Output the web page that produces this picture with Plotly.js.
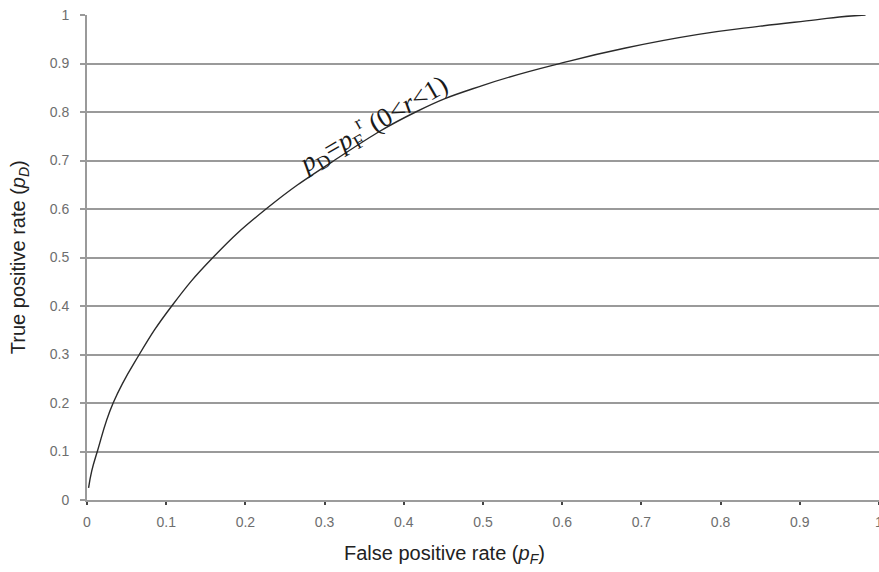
<!DOCTYPE html>
<html>
<head>
<meta charset="utf-8">
<script src="https://cdn.plot.ly/plotly-3.0.1.min.js"></script>
<style>html,body{margin:0;padding:0;background:#fff;}#chart{width:879px;height:572px;}</style>
</head>
<body>
<div id="chart"></div>
<script>
// Curve (p_F, p_D)
const falsePositiveRate = [0.002, 0.006, 0.013, 0.033, 0.066, 0.107, 0.159, 0.226, 0.312, 0.415, 0.5, 0.609, 0.68, 0.772, 0.85, 0.92, 0.95, 0.983];
const truePositiveRate  = [0.025, 0.06, 0.1, 0.2, 0.3, 0.4, 0.5, 0.6, 0.7, 0.8, 0.855, 0.905, 0.932, 0.96, 0.977, 0.99, 0.996, 1.0];

const xTickValues = [0, 0.1, 0.2, 0.3, 0.4, 0.5, 0.6, 0.7, 0.8, 0.9, 1];
const xTickLabels = ['0', '0.1', '0.2', '0.3', '0.4', '0.5', '0.6', '0.7', '0.8', '0.9', '1'];
const yTickValues = [0, 0.1, 0.2, 0.3, 0.4, 0.5, 0.6, 0.7, 0.8, 0.9, 1];
const yTickLabels = ['0', '0.1', '0.2', '0.3', '0.4', '0.5', '0.6', '0.7', '0.8', '0.9', '1'];

const formulaText = '<i>p</i><sub>D</sub>=<i>p</i><sub>F</sub><sup>r</sup> (0&lt;<i>r</i>&lt;1)';
const xTitle = 'False positive rate (<i>p</i><sub><i>F</i></sub>)';
const yTitle = 'True positive rate (<i>p</i><sub><i>D</i></sub>)';

const trace = {
  x: falsePositiveRate,
  y: truePositiveRate,
  type: 'scatter',
  mode: 'lines',
  line: {color: '#2a2a2a', width: 1.4, shape: 'spline', smoothing: 1.3},
  hoverinfo: 'x+y'
};

const tickFont = {family: 'Liberation Sans, Arial, sans-serif', size: 14, color: '#6e6e6e'};
const titleFont = {family: 'Liberation Sans, Arial, sans-serif', size: 20, color: '#222'};

const layout = {
  width: 879,
  height: 572,
  margin: {l: 87, r: 0, t: 15, b: 72, pad: 0},
  paper_bgcolor: '#ffffff',
  plot_bgcolor: '#ffffff',
  showlegend: false,
  xaxis: {
    range: [0, 1],
    tickvals: xTickValues,
    ticktext: xTickLabels,
    showgrid: false,
    zeroline: false,
    showline: true,
    linecolor: '#9c9c9c',
    linewidth: 2,
    ticks: 'outside',
    ticklen: 3,
    tickwidth: 1.5,
    tickcolor: '#444',
    tickfont: tickFont,
    ticklabelstandoff: 5,
    ticklabeloverflow: 'allow'
  },
  yaxis: {
    range: [0, 1],
    tickvals: yTickValues,
    ticktext: yTickLabels,
    showgrid: true,
    gridcolor: '#9a9a9a',
    gridwidth: 2,
    zeroline: false,
    showline: true,
    linecolor: '#9a9a9a',
    linewidth: 2,
    ticks: 'outside',
    ticklen: 5,
    tickwidth: 2,
    tickcolor: '#9a9a9a',
    tickfont: tickFont,
    ticklabelstandoff: 8
  },
  annotations: [
    {
      text: formulaText,
      xref: 'x', yref: 'y',
      x: 0.36, y: 0.775,
      showarrow: false,
      textangle: -30,
      font: {family: 'Liberation Serif, Times New Roman, serif', size: 27, color: '#1a1a1a'}
    },
    {
      text: xTitle,
      xref: 'paper', yref: 'paper',
      x: 0.451, y: -0.113,
      xanchor: 'center', yanchor: 'middle',
      showarrow: false,
      font: titleFont
    },
    {
      text: yTitle,
      xref: 'paper', yref: 'paper',
      x: -0.085, y: 0.5,
      xanchor: 'center', yanchor: 'middle',
      textangle: -90,
      showarrow: false,
      font: titleFont
    }
  ]
};

Plotly.newPlot('chart', [trace], layout, {displayModeBar: false});
</script>
</body>
</html>
